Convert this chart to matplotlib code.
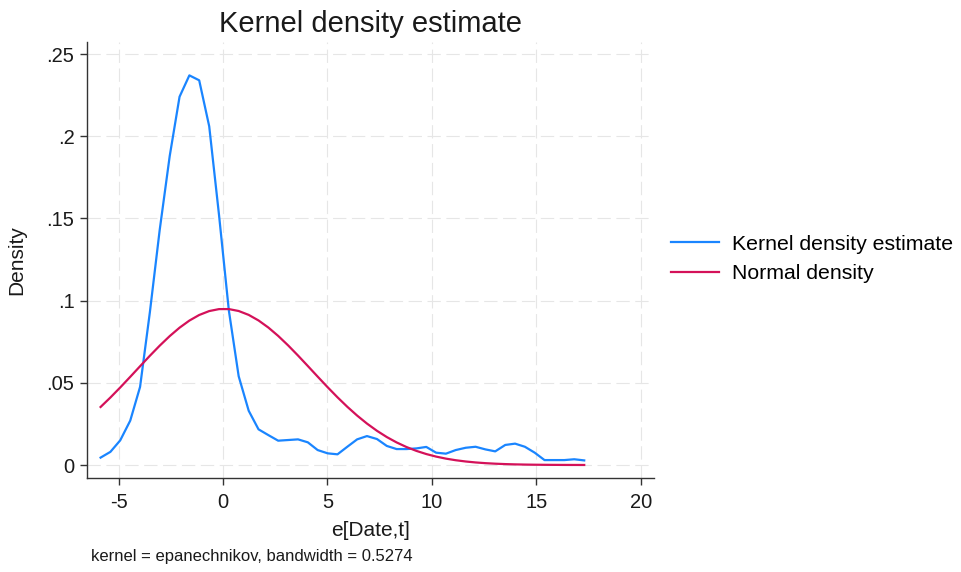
import numpy as np
import matplotlib
matplotlib.use("Agg")
import matplotlib.pyplot as plt

plt.rcParams['font.family'] = ['Liberation Sans', 'DejaVu Sans']
plt.rcParams['axes.unicode_minus'] = False

# KDE evaluation grid (x) and density values
kde_x = [-5.86, -5.39, -4.92, -4.44, -3.97, -3.50, -3.03, -2.55, -2.08, -1.61,
         -1.14, -0.66, -0.19, 0.28, 0.75, 1.23, 1.70, 2.17, 2.64, 3.12,
         3.59, 4.06, 4.53, 5.01, 5.48, 5.95, 6.42, 6.89, 7.37, 7.84,
         8.31, 8.78, 9.26, 9.73, 10.20, 10.67, 11.14, 11.62, 12.09, 12.56,
         13.03, 13.51, 13.98, 14.45, 14.92, 15.39, 15.87, 16.34, 16.81, 17.29]
kde_y = [0.0045, 0.008, 0.015, 0.027, 0.0475, 0.093, 0.143, 0.188, 0.224, 0.237,
         0.234, 0.206, 0.152, 0.094, 0.054, 0.033, 0.0217, 0.0182, 0.0148, 0.0152,
         0.0156, 0.0138, 0.0091, 0.0071, 0.0065, 0.0111, 0.0156, 0.0176, 0.0158, 0.0116,
         0.0097, 0.0097, 0.0101, 0.011, 0.0075, 0.0069, 0.0091, 0.0105, 0.0111, 0.0095,
         0.0083, 0.0122, 0.013, 0.0111, 0.0075, 0.003, 0.003, 0.003, 0.0035, 0.0028]

# Normal density parameters (read from peak location/height)
normal_mean = 0.05
normal_sd = 4.2

x_ticks = [-5, 0, 5, 10, 15, 20]
y_ticks = [0, 0.05, 0.10, 0.15, 0.20, 0.25]
y_tick_labels = ["0", ".05", ".1", ".15", ".2", ".25"]

blue = "#1a85ff"
red = "#d41159"

fig = plt.figure(figsize=(9.61, 5.72), dpi=100)
ax = fig.add_axes([87/961, 1-478/572, (654-87)/961, (478-42)/572])

kx = np.array(kde_x)
norm_y = np.exp(-0.5*((kx - normal_mean)/normal_sd)**2) / (normal_sd*np.sqrt(2*np.pi))

ax.plot(kde_x, kde_y, color=blue, lw=1.6, label="Kernel density estimate", zorder=3)
ax.plot(kx, norm_y, color=red, lw=1.6, label="Normal density", zorder=3)

ax.set_xlim(-6.51, 20.63)
ax.set_ylim(-0.0079, 0.2573)
ax.set_xticks(x_ticks)
ax.set_yticks(y_ticks)
ax.set_yticklabels(y_tick_labels)
ax.tick_params(axis='both', labelsize=14.5, length=5, width=1, color='#333333',
               labelcolor='#1a1a1a')
ax.tick_params(axis='x', pad=6)
ax.tick_params(axis='y', pad=4)

for s in ['top', 'right']:
    ax.spines[s].set_visible(False)
for s in ['left', 'bottom']:
    ax.spines[s].set_color('#333333')
    ax.spines[s].set_linewidth(1)

ax.grid(True, color='#e6e6e6', linestyle=(0, (12, 5)), linewidth=0.8, zorder=0)
ax.set_axisbelow(True)

ax.set_title("Kernel density estimate", fontsize=21, color='#1a1a1a', pad=7)
ax.set_xlabel("e[Date,t]", fontsize=15, color='#1a1a1a')
ax.xaxis.set_label_coords(0.5, -0.099)
ax.set_ylabel("Density", fontsize=15, color='#1a1a1a')
ax.yaxis.set_label_coords(-0.107, 0.5)

fig.text(91/961, 1-557/572, "kernel = epanechnikov, bandwidth = 0.5274",
         fontsize=12, color='#1a1a1a', va='center', ha='left')

leg = ax.legend(loc='center left', frameon=False,
                fontsize=15.3, handlelength=2.25, handletextpad=0.6, labelspacing=0.5,
                borderaxespad=0, borderpad=0,
                bbox_to_anchor=(671/961, 1-259/572), bbox_transform=fig.transFigure)

fig.savefig("out.png", dpi=100)
